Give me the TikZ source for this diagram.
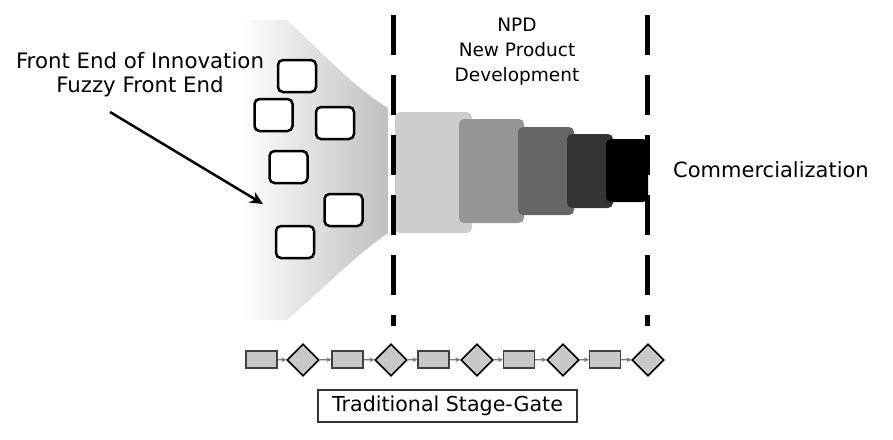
\documentclass[tikz,border=0pt]{standalone}
\usepackage{fontspec}
\setmainfont{DejaVu Sans}
\usetikzlibrary{arrows.meta,shapes.geometric}
\definecolor{funnelmid}{RGB}{226,226,226}
\definecolor{funnelgray}{RGB}{192,192,192}
\definecolor{blkA}{RGB}{205,205,205}
\definecolor{blkB}{RGB}{150,150,150}
\definecolor{blkC}{RGB}{102,102,102}
\definecolor{blkD}{RGB}{52,52,52}
\definecolor{sgfill}{RGB}{200,200,200}
\definecolor{sgline}{RGB}{120,120,120}
\tikzset{
  stageblk/.style={rounded corners=5pt, inner sep=0pt, draw=none},
  idea/.style={draw=black, fill=white, line width=2.5pt, rounded corners=5pt, minimum width=38pt, minimum height=32pt, inner sep=0pt},
  divider/.style={line width=5pt, dash pattern=on 40pt off 20pt},
  sgrect/.style={draw=black!75, fill=sgfill, line width=1.2pt, minimum width=31pt, minimum height=17pt, inner sep=0pt},
  sgdiam/.style={diamond, aspect=1, draw=black, fill=sgfill, line width=1.6pt, minimum width=32pt, minimum height=32pt, inner sep=0pt},
  sgarrow/.style={draw=sgline, line width=1.2pt, -{Stealth[length=5pt,width=5pt]}},
  lbl/.style={font=\fontsize{21.3}{24}\selectfont, align=center, inner sep=0pt}
}
\begin{document}
\begin{tikzpicture}[x=1pt,y=-1pt]
\useasboundingbox (0,0) rectangle (893,439);
% funnel
\shade[left color=white, middle color=funnelmid, right color=funnelgray]
  (240,20) -- (287,20) .. controls (322,52) and (352,86) .. (388,108)
  -- (388,233) .. controls (352,258) and (320,292) .. (287,320) -- (240,320) -- cycle;
% stage blocks
\node[stageblk, fill=blkA, minimum width=77pt, minimum height=121pt] (b1) at (433.5,172.5) {};
\node[stageblk, fill=blkB, minimum width=65pt, minimum height=104pt] (b2) at (491.5,171) {};
\node[stageblk, fill=blkC, minimum width=56pt, minimum height=88pt] (b3) at (546,171) {};
\node[stageblk, fill=blkD, minimum width=46pt, minimum height=74pt] (b4) at (590,171) {};
\node[stageblk, fill=black, minimum width=42pt, minimum height=63pt] (b5) at (627,170.5) {};
% ideas
\node[idea] (i1) at (297,76) {};
\node[idea] (i2) at (273.5,115) {};
\node[idea] (i3) at (335,123) {};
\node[idea] (i4) at (288.5,167) {};
\node[idea] (i5) at (343.5,210) {};
\node[idea] (i6) at (295,242) {};
% dividers
\coordinate (l1) at (393,15); \coordinate (l2) at (393,326);
\coordinate (r1c) at (647,15); \coordinate (r2c) at (647,326);
\draw[divider] (l1) -- (l2);
\draw[divider] (r1c) -- (r2c);
% texts
\node[lbl] (fe) at (140,75) {Front End of Innovation\\Fuzzy Front End};
\node[lbl, font=\fontsize{18.5}{25}\selectfont] (npd) at (517,52) {NPD\\New Product\\Development};
\node[lbl, anchor=west, font=\fontsize{21}{24}\selectfont] (com) at (673,170) {Commercialization};
% arrow
\coordinate (as) at (110,112);
\coordinate (ae) at (263,204);
\draw[line width=2.5pt, -{Stealth[length=13pt,width=12pt]}] (as) -- (ae);
% stage-gate row
\node[sgrect] (s1) at (261.5,359.5) {};
\node[sgdiam] (g1) at (303,360) {};
\node[sgrect] (s2) at (347.5,359.5) {};
\node[sgdiam] (g2) at (391,360) {};
\node[sgrect] (s3) at (433.5,359.5) {};
\node[sgdiam] (g3) at (477,360) {};
\node[sgrect] (s4) at (519,359.5) {};
\node[sgdiam] (g4) at (563,360) {};
\node[sgrect] (s5) at (605,359.5) {};
\node[sgdiam] (g5) at (648,360) {};
\draw[sgarrow] (s1) -- (g1);
\draw[sgarrow] (g1) -- (s2);
\draw[sgarrow] (s2) -- (g2);
\draw[sgarrow] (g2) -- (s3);
\draw[sgarrow] (s3) -- (g3);
\draw[sgarrow] (g3) -- (s4);
\draw[sgarrow] (s4) -- (g4);
\draw[sgarrow] (g4) -- (s5);
\draw[sgarrow] (s5) -- (g5);
\node[draw=black!80, line width=1.2pt, minimum width=259pt, minimum height=32pt, inner sep=0pt, font=\fontsize{20.6}{24}\selectfont] (tsg) at (447.5,406) {Traditional Stage-Gate};
\end{tikzpicture}
\end{document}
